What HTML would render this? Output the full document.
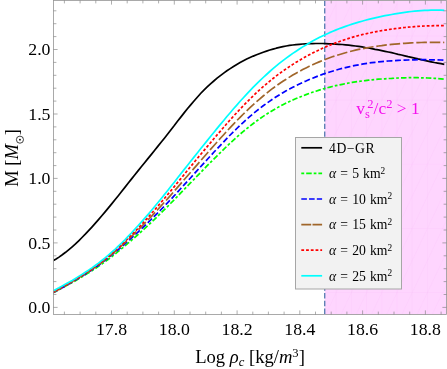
<!DOCTYPE html>
<html><head><meta charset="utf-8"><title>plot</title>
<style>
html,body{margin:0;padding:0;background:#fff;}
body{width:447px;height:369px;position:relative;overflow:hidden;font-family:"Liberation Serif",serif;color:#000;}
.t{position:absolute;white-space:nowrap;line-height:1;}
#txt{position:absolute;left:0;top:0;width:447px;height:369px;will-change:transform;opacity:0.999;}
.xt{font-size:17.8px;top:320.8px;transform:translateX(-50%) scaleY(0.94);}
.yt{font-size:17.8px;right:396.5px;transform:translateY(-50%) scaleY(0.94);}
.lg{font-size:13.7px;left:329px;transform:translateY(-50%);word-spacing:0.7px;margin-top:0.8px;}
sup{font-size:0.68em;vertical-align:baseline;position:relative;top:-0.48em;line-height:0;}
sub{font-size:0.68em;vertical-align:baseline;position:relative;top:0.25em;line-height:0;}
i{font-style:italic;}
</style></head><body>
<svg width="447" height="369" viewBox="0 0 447 369" style="position:absolute;left:0;top:0">
<defs><clipPath id="cp"><rect x="53.5" y="0.5" width="393.0" height="314.0"/></clipPath><clipPath id="cpp"><rect x="324.7" y="0.5" width="121.80000000000001" height="314.0"/></clipPath></defs>
<rect x="324.7" y="0.5" width="121.80000000000001" height="314.0" fill="#fed5fe"/>
<path clip-path="url(#cpp)" d="M427.4,0.5V314.5M412.2,0.5V314.5M397.0,0.5V314.5M381.8,0.5V314.5M366.6,0.5V314.5M351.4,0.5V314.5M336.2,0.5V314.5M324.7,36H446.5M324.7,100.2H446.5M324.7,164.3H446.5M324.7,228.5H446.5M324.7,292.6H446.5M442.6,68.1L457.8,36.0L473.0,3.9M442.6,132.3L457.8,100.2L473.0,68.1M442.6,196.4L457.8,164.3L473.0,132.2M442.6,260.6L457.8,228.5L473.0,196.4M442.6,324.7L457.8,292.6L473.0,260.5M427.4,68.1L442.6,36.0L457.8,3.9M427.4,132.3L442.6,100.2L457.8,68.1M427.4,196.4L442.6,164.3L457.8,132.2M427.4,260.6L442.6,228.5L457.8,196.4M427.4,324.7L442.6,292.6L457.8,260.5M412.2,68.1L427.4,36.0L442.6,3.9M412.2,132.3L427.4,100.2L442.6,68.1M412.2,196.4L427.4,164.3L442.6,132.2M412.2,260.6L427.4,228.5L442.6,196.4M412.2,324.7L427.4,292.6L442.6,260.5M397.0,68.1L412.2,36.0L427.4,3.9M397.0,132.3L412.2,100.2L427.4,68.1M397.0,196.4L412.2,164.3L427.4,132.2M397.0,260.6L412.2,228.5L427.4,196.4M397.0,324.7L412.2,292.6L427.4,260.5M381.8,68.1L397.0,36.0L412.2,3.9M381.8,132.3L397.0,100.2L412.2,68.1M381.8,196.4L397.0,164.3L412.2,132.2M381.8,260.6L397.0,228.5L412.2,196.4M381.8,324.7L397.0,292.6L412.2,260.5M366.6,68.1L381.8,36.0L397.0,3.9M366.6,132.3L381.8,100.2L397.0,68.1M366.6,196.4L381.8,164.3L397.0,132.2M366.6,260.6L381.8,228.5L397.0,196.4M366.6,324.7L381.8,292.6L397.0,260.5M351.4,68.1L366.6,36.0L381.8,3.9M351.4,132.3L366.6,100.2L381.8,68.1M351.4,196.4L366.6,164.3L381.8,132.2M351.4,260.6L366.6,228.5L381.8,196.4M351.4,324.7L366.6,292.6L381.8,260.5M336.2,68.1L351.4,36.0L366.6,3.9M336.2,132.3L351.4,100.2L366.6,68.1M336.2,196.4L351.4,164.3L366.6,132.2M336.2,260.6L351.4,228.5L366.6,196.4M336.2,324.7L351.4,292.6L366.6,260.5M321.0,68.1L336.2,36.0L351.4,3.9M321.0,132.3L336.2,100.2L351.4,68.1M321.0,196.4L336.2,164.3L351.4,132.2M321.0,260.6L336.2,228.5L351.4,196.4M321.0,324.7L336.2,292.6L351.4,260.5M305.8,68.1L321.0,36.0L336.2,3.9M305.8,132.3L321.0,100.2L336.2,68.1M305.8,196.4L321.0,164.3L336.2,132.2M305.8,260.6L321.0,228.5L336.2,196.4M305.8,324.7L321.0,292.6L336.2,260.5M290.6,68.1L305.8,36.0L321.0,3.9M290.6,132.3L305.8,100.2L321.0,68.1M290.6,196.4L305.8,164.3L321.0,132.2M290.6,260.6L305.8,228.5L321.0,196.4M290.6,324.7L305.8,292.6L321.0,260.5M275.4,68.1L290.6,36.0L305.8,3.9M275.4,132.3L290.6,100.2L305.8,68.1M275.4,196.4L290.6,164.3L305.8,132.2M275.4,260.6L290.6,228.5L305.8,196.4M275.4,324.7L290.6,292.6L305.8,260.5M260.2,68.1L275.4,36.0L290.6,3.9M260.2,132.3L275.4,100.2L290.6,68.1M260.2,196.4L275.4,164.3L290.6,132.2M260.2,260.6L275.4,228.5L290.6,196.4M260.2,324.7L275.4,292.6L290.6,260.5M245.0,68.1L260.2,36.0L275.4,3.9M245.0,132.3L260.2,100.2L275.4,68.1M245.0,196.4L260.2,164.3L275.4,132.2M245.0,260.6L260.2,228.5L275.4,196.4M245.0,324.7L260.2,292.6L275.4,260.5" stroke="#fbc6fb" stroke-width="0.7" fill="none" opacity="0.4"/>
<g clip-path="url(#cp)" fill="none" stroke-linejoin="round">
<line x1="324.7" y1="0.5" x2="324.7" y2="314.5" stroke="#5e81b5" stroke-width="1.4" stroke-dasharray="5.4,2.3"/>
<path d="M52.4,261.1 L55.7,259.2 L59.0,257.1 L62.3,254.8 L65.6,252.3 L68.9,249.6 L72.2,246.8 L75.5,243.9 L78.7,240.8 L82.0,237.5 L85.3,234.2 L88.6,230.7 L91.9,227.1 L95.2,223.4 L98.5,219.6 L101.8,215.8 L105.1,211.9 L108.4,207.9 L111.7,203.9 L115.0,199.8 L118.3,195.7 L121.6,191.5 L124.9,187.4 L128.1,183.3 L131.4,179.1 L134.7,175.0 L138.0,170.9 L141.3,166.8 L144.6,162.7 L147.9,158.6 L151.2,154.6 L154.5,150.5 L157.8,146.4 L161.1,142.3 L164.4,138.2 L167.7,134.0 L171.0,129.7 L174.3,125.5 L177.5,121.2 L180.8,117.1 L184.1,112.9 L187.4,108.8 L190.7,104.9 L194.0,101.0 L197.3,97.2 L200.6,93.5 L203.9,90.1 L207.2,86.9 L210.5,83.8 L213.8,81.0 L217.1,78.2 L220.4,75.6 L223.7,73.1 L226.9,70.8 L230.2,68.6 L233.5,66.5 L236.8,64.5 L240.1,62.6 L243.4,60.8 L246.7,59.1 L250.0,57.6 L253.3,56.1 L256.6,54.8 L259.9,53.5 L263.2,52.2 L266.5,51.1 L269.8,50.0 L273.0,49.1 L276.3,48.2 L279.6,47.4 L282.9,46.7 L286.2,46.0 L289.5,45.4 L292.8,45.0 L296.1,44.6 L299.4,44.3 L302.7,44.0 L306.0,43.8 L309.3,43.7 L312.6,43.6 L315.9,43.5 L319.2,43.5 L322.4,43.5 L325.7,43.6 L329.0,43.8 L332.3,43.9 L335.6,44.1 L338.9,44.3 L342.2,44.5 L345.5,44.8 L348.8,45.2 L352.1,45.6 L355.4,46.0 L358.7,46.4 L362.0,46.9 L365.3,47.5 L368.6,48.0 L371.8,48.6 L375.1,49.3 L378.4,49.9 L381.7,50.6 L385.0,51.3 L388.3,52.0 L391.6,52.7 L394.9,53.5 L398.2,54.3 L401.5,55.0 L404.8,55.8 L408.1,56.6 L411.4,57.3 L414.7,58.1 L418.0,58.9 L421.2,59.6 L424.5,60.4 L427.8,61.1 L431.1,61.8 L434.4,62.5 L437.7,63.1 L441.0,63.7 L444.3,64.3" stroke="#000000" stroke-width="1.7"/>
<path d="M52.4,293.2 L55.7,291.5 L59.0,289.7 L62.3,287.9 L65.6,286.1 L68.9,284.3 L72.2,282.5 L75.5,280.7 L78.7,278.8 L82.0,276.8 L85.3,274.9 L88.6,272.8 L91.9,270.7 L95.2,268.6 L98.5,266.4 L101.8,264.0 L105.1,261.7 L108.4,259.2 L111.7,256.7 L115.0,254.1 L118.3,251.4 L121.6,248.7 L124.9,246.0 L128.1,243.2 L131.4,240.4 L134.7,237.5 L138.0,234.6 L141.3,231.6 L144.6,228.6 L147.9,225.5 L151.2,222.4 L154.5,219.3 L157.8,216.1 L161.1,212.9 L164.4,209.6 L167.7,206.4 L171.0,203.0 L174.3,199.7 L177.5,196.3 L180.8,192.9 L184.1,189.5 L187.4,186.1 L190.7,182.7 L194.0,179.3 L197.3,175.9 L200.6,172.5 L203.9,169.1 L207.2,165.7 L210.5,162.4 L213.8,159.1 L217.1,155.8 L220.4,152.6 L223.7,149.4 L226.9,146.2 L230.2,143.1 L233.5,140.1 L236.8,137.1 L240.1,134.2 L243.4,131.4 L246.7,128.7 L250.0,126.1 L253.3,123.5 L256.6,121.0 L259.9,118.7 L263.2,116.4 L266.5,114.2 L269.8,112.2 L273.0,110.2 L276.3,108.3 L279.6,106.5 L282.9,104.7 L286.2,103.1 L289.5,101.5 L292.8,100.0 L296.1,98.5 L299.4,97.2 L302.7,95.9 L306.0,94.6 L309.3,93.4 L312.6,92.2 L315.9,91.2 L319.2,90.1 L322.4,89.1 L325.7,88.2 L329.0,87.3 L332.3,86.5 L335.6,85.7 L338.9,85.0 L342.2,84.3 L345.5,83.6 L348.8,83.0 L352.1,82.4 L355.4,81.9 L358.7,81.4 L362.0,81.0 L365.3,80.6 L368.6,80.2 L371.8,79.8 L375.1,79.5 L378.4,79.2 L381.7,79.0 L385.0,78.8 L388.3,78.5 L391.6,78.4 L394.9,78.2 L398.2,78.0 L401.5,77.9 L404.8,77.8 L408.1,77.7 L411.4,77.7 L414.7,77.7 L418.0,77.7 L421.2,77.8 L424.5,77.8 L427.8,78.0 L431.1,78.1 L434.4,78.3 L437.7,78.5 L441.0,78.8 L444.3,79.1" stroke="#00ff00" stroke-width="1.7" stroke-dasharray="5.5,2.1,2.7,2.1"/>
<path d="M52.4,293.1 L55.7,291.3 L59.0,289.5 L62.3,287.7 L65.6,285.8 L68.9,284.0 L72.2,282.1 L75.5,280.1 L78.7,278.2 L82.0,276.2 L85.3,274.1 L88.6,272.0 L91.9,269.8 L95.2,267.5 L98.5,265.2 L101.8,262.8 L105.1,260.3 L108.4,257.7 L111.7,255.1 L115.0,252.3 L118.3,249.6 L121.6,246.8 L124.9,243.9 L128.1,241.0 L131.4,238.1 L134.7,235.1 L138.0,232.1 L141.3,229.0 L144.6,225.9 L147.9,222.7 L151.2,219.5 L154.5,216.2 L157.8,212.9 L161.1,209.5 L164.4,206.1 L167.7,202.7 L171.0,199.2 L174.3,195.7 L177.5,192.1 L180.8,188.5 L184.1,184.9 L187.4,181.3 L190.7,177.7 L194.0,174.0 L197.3,170.4 L200.6,166.7 L203.9,163.1 L207.2,159.5 L210.5,155.9 L213.8,152.3 L217.1,148.8 L220.4,145.3 L223.7,141.8 L226.9,138.4 L230.2,135.0 L233.5,131.7 L236.8,128.5 L240.1,125.4 L243.4,122.3 L246.7,119.3 L250.0,116.4 L253.3,113.6 L256.6,110.9 L259.9,108.3 L263.2,105.8 L266.5,103.4 L269.8,101.1 L273.0,98.8 L276.3,96.7 L279.6,94.7 L282.9,92.7 L286.2,90.8 L289.5,89.0 L292.8,87.3 L296.1,85.6 L299.4,84.0 L302.7,82.4 L306.0,81.0 L309.3,79.5 L312.6,78.2 L315.9,76.9 L319.2,75.6 L322.4,74.4 L325.7,73.3 L329.0,72.2 L332.3,71.2 L335.6,70.2 L338.9,69.3 L342.2,68.4 L345.5,67.6 L348.8,66.8 L352.1,66.1 L355.4,65.4 L358.7,64.8 L362.0,64.2 L365.3,63.6 L368.6,63.1 L371.8,62.7 L375.1,62.3 L378.4,61.9 L381.7,61.6 L385.0,61.3 L388.3,61.0 L391.6,60.8 L394.9,60.6 L398.2,60.4 L401.5,60.2 L404.8,60.1 L408.1,60.0 L411.4,59.9 L414.7,59.8 L418.0,59.7 L421.2,59.7 L424.5,59.7 L427.8,59.7 L431.1,59.8 L434.4,59.8 L437.7,59.9 L441.0,60.0 L444.3,60.2" stroke="#0000ff" stroke-width="1.7" stroke-dasharray="5.9,2.6"/>
<path d="M52.4,292.8 L55.7,291.0 L59.0,289.2 L62.3,287.4 L65.6,285.5 L68.9,283.6 L72.2,281.7 L75.5,279.8 L78.7,277.8 L82.0,275.8 L85.3,273.7 L88.6,271.6 L91.9,269.4 L95.2,267.1 L98.5,264.7 L101.8,262.3 L105.1,259.7 L108.4,257.1 L111.7,254.3 L115.0,251.5 L118.3,248.7 L121.6,245.7 L124.9,242.7 L128.1,239.7 L131.4,236.5 L134.7,233.3 L138.0,230.1 L141.3,226.8 L144.6,223.4 L147.9,220.0 L151.2,216.6 L154.5,213.1 L157.8,209.5 L161.1,205.9 L164.4,202.3 L167.7,198.6 L171.0,194.9 L174.3,191.1 L177.5,187.4 L180.8,183.6 L184.1,179.8 L187.4,176.0 L190.7,172.2 L194.0,168.4 L197.3,164.6 L200.6,160.8 L203.9,157.0 L207.2,153.2 L210.5,149.4 L213.8,145.7 L217.1,142.0 L220.4,138.3 L223.7,134.7 L226.9,131.1 L230.2,127.6 L233.5,124.1 L236.8,120.6 L240.1,117.3 L243.4,114.0 L246.7,110.8 L250.0,107.6 L253.3,104.6 L256.6,101.6 L259.9,98.8 L263.2,96.0 L266.5,93.3 L269.8,90.7 L273.0,88.2 L276.3,85.8 L279.6,83.5 L282.9,81.3 L286.2,79.2 L289.5,77.1 L292.8,75.1 L296.1,73.2 L299.4,71.4 L302.7,69.6 L306.0,67.9 L309.3,66.3 L312.6,64.8 L315.9,63.3 L319.2,61.9 L322.4,60.5 L325.7,59.2 L329.0,58.0 L332.3,56.8 L335.6,55.7 L338.9,54.7 L342.2,53.7 L345.5,52.7 L348.8,51.8 L352.1,51.0 L355.4,50.2 L358.7,49.4 L362.0,48.8 L365.3,48.1 L368.6,47.5 L371.8,47.0 L375.1,46.5 L378.4,46.0 L381.7,45.6 L385.0,45.1 L388.3,44.8 L391.6,44.4 L394.9,44.1 L398.2,43.8 L401.5,43.5 L404.8,43.3 L408.1,43.1 L411.4,42.9 L414.7,42.7 L418.0,42.6 L421.2,42.5 L424.5,42.4 L427.8,42.3 L431.1,42.3 L434.4,42.3 L437.7,42.3 L441.0,42.4 L444.3,42.5" stroke="#a0662a" stroke-width="1.7" stroke-dasharray="10.6,2.8"/>
<path d="M52.4,292.6 L55.7,290.7 L59.0,288.9 L62.3,287.0 L65.6,285.2 L68.9,283.3 L72.2,281.4 L75.5,279.5 L78.7,277.5 L82.0,275.5 L85.3,273.4 L88.6,271.2 L91.9,269.0 L95.2,266.7 L98.5,264.3 L101.8,261.8 L105.1,259.2 L108.4,256.5 L111.7,253.7 L115.0,250.8 L118.3,247.8 L121.6,244.8 L124.9,241.6 L128.1,238.4 L131.4,235.1 L134.7,231.7 L138.0,228.3 L141.3,224.8 L144.6,221.2 L147.9,217.5 L151.2,213.8 L154.5,210.0 L157.8,206.2 L161.1,202.4 L164.4,198.5 L167.7,194.5 L171.0,190.6 L174.3,186.6 L177.5,182.6 L180.8,178.6 L184.1,174.6 L187.4,170.5 L190.7,166.5 L194.0,162.5 L197.3,158.5 L200.6,154.5 L203.9,150.6 L207.2,146.6 L210.5,142.7 L213.8,138.8 L217.1,134.9 L220.4,131.1 L223.7,127.3 L226.9,123.5 L230.2,119.8 L233.5,116.2 L236.8,112.6 L240.1,109.1 L243.4,105.6 L246.7,102.3 L250.0,99.0 L253.3,95.8 L256.6,92.6 L259.9,89.6 L263.2,86.7 L266.5,83.9 L269.8,81.1 L273.0,78.5 L276.3,75.9 L279.6,73.5 L282.9,71.1 L286.2,68.8 L289.5,66.6 L292.8,64.4 L296.1,62.3 L299.4,60.4 L302.7,58.4 L306.0,56.6 L309.3,54.8 L312.6,53.1 L315.9,51.4 L319.2,49.9 L322.4,48.3 L325.7,46.9 L329.0,45.5 L332.3,44.2 L335.6,42.9 L338.9,41.7 L342.2,40.5 L345.5,39.4 L348.8,38.4 L352.1,37.4 L355.4,36.4 L358.7,35.5 L362.0,34.7 L365.3,33.9 L368.6,33.2 L371.8,32.5 L375.1,31.8 L378.4,31.2 L381.7,30.6 L385.0,30.1 L388.3,29.6 L391.6,29.1 L394.9,28.7 L398.2,28.3 L401.5,27.9 L404.8,27.5 L408.1,27.2 L411.4,26.9 L414.7,26.6 L418.0,26.4 L421.2,26.2 L424.5,26.0 L427.8,25.9 L431.1,25.8 L434.4,25.7 L437.7,25.7 L441.0,25.6 L444.3,25.7" stroke="#ff0000" stroke-width="1.7" stroke-dasharray="2.8,1.95"/>
<path d="M52.4,291.4 L55.7,289.6 L59.0,287.8 L62.3,285.9 L65.6,284.1 L68.9,282.2 L72.2,280.4 L75.5,278.4 L78.7,276.4 L82.0,274.4 L85.3,272.3 L88.6,270.1 L91.9,267.9 L95.2,265.5 L98.5,263.1 L101.8,260.5 L105.1,257.9 L108.4,255.1 L111.7,252.2 L115.0,249.3 L118.3,246.2 L121.6,243.0 L124.9,239.8 L128.1,236.4 L131.4,233.0 L134.7,229.4 L138.0,225.8 L141.3,222.1 L144.6,218.4 L147.9,214.6 L151.2,210.7 L154.5,206.7 L157.8,202.7 L161.1,198.7 L164.4,194.6 L167.7,190.5 L171.0,186.3 L174.3,182.2 L177.5,178.0 L180.8,173.8 L184.1,169.6 L187.4,165.5 L190.7,161.3 L194.0,157.1 L197.3,153.0 L200.6,148.8 L203.9,144.7 L207.2,140.6 L210.5,136.5 L213.8,132.5 L217.1,128.4 L220.4,124.4 L223.7,120.5 L226.9,116.5 L230.2,112.7 L233.5,108.8 L236.8,105.1 L240.1,101.3 L243.4,97.7 L246.7,94.1 L250.0,90.6 L253.3,87.2 L256.6,83.9 L259.9,80.6 L263.2,77.5 L266.5,74.5 L269.8,71.5 L273.0,68.7 L276.3,65.9 L279.6,63.2 L282.9,60.6 L286.2,58.1 L289.5,55.7 L292.8,53.4 L296.1,51.2 L299.4,49.0 L302.7,46.9 L306.0,44.9 L309.3,43.0 L312.6,41.1 L315.9,39.3 L319.2,37.6 L322.4,36.0 L325.7,34.4 L329.0,32.9 L332.3,31.5 L335.6,30.1 L338.9,28.8 L342.2,27.6 L345.5,26.4 L348.8,25.2 L352.1,24.1 L355.4,23.1 L358.7,22.1 L362.0,21.2 L365.3,20.3 L368.6,19.4 L371.8,18.6 L375.1,17.8 L378.4,17.1 L381.7,16.4 L385.0,15.7 L388.3,15.1 L391.6,14.5 L394.9,13.9 L398.2,13.3 L401.5,12.8 L404.8,12.3 L408.1,11.9 L411.4,11.5 L414.7,11.2 L418.0,10.9 L421.2,10.6 L424.5,10.4 L427.8,10.3 L431.1,10.1 L434.4,10.1 L437.7,10.1 L441.0,10.2 L444.3,10.3" stroke="#00ffff" stroke-width="1.7"/>
</g>
<rect x="53.5" y="0.5" width="393.0" height="314.0" fill="none" stroke="#959595" stroke-width="0.8"/>
<path d="M64.4,314.5v-2.9M64.4,0.5v2.9M80.1,314.5v-2.9M80.1,0.5v2.9M95.8,314.5v-2.9M95.8,0.5v2.9M111.5,314.5v-4.1M111.5,0.5v4.1M127.2,314.5v-2.9M127.2,0.5v2.9M142.9,314.5v-2.9M142.9,0.5v2.9M158.6,314.5v-2.9M158.6,0.5v2.9M174.3,314.5v-4.1M174.3,0.5v4.1M190.0,314.5v-2.9M190.0,0.5v2.9M205.7,314.5v-2.9M205.7,0.5v2.9M221.4,314.5v-2.9M221.4,0.5v2.9M237.1,314.5v-4.1M237.1,0.5v4.1M252.8,314.5v-2.9M252.8,0.5v2.9M268.4,314.5v-2.9M268.4,0.5v2.9M284.1,314.5v-2.9M284.1,0.5v2.9M299.8,314.5v-4.1M299.8,0.5v4.1M315.5,314.5v-2.9M315.5,0.5v2.9M331.2,314.5v-2.9M331.2,0.5v2.9M346.9,314.5v-2.9M346.9,0.5v2.9M362.6,314.5v-4.1M362.6,0.5v4.1M378.3,314.5v-2.9M378.3,0.5v2.9M394.0,314.5v-2.9M394.0,0.5v2.9M409.7,314.5v-2.9M409.7,0.5v2.9M425.4,314.5v-4.1M425.4,0.5v4.1M441.1,314.5v-2.9M441.1,0.5v2.9M53.5,307.4h4.1M446.5,307.4h-4.1M53.5,294.5h2.9M446.5,294.5h-2.9M53.5,281.6h2.9M446.5,281.6h-2.9M53.5,268.7h2.9M446.5,268.7h-2.9M53.5,255.8h2.9M446.5,255.8h-2.9M53.5,242.9h4.1M446.5,242.9h-4.1M53.5,230.0h2.9M446.5,230.0h-2.9M53.5,217.1h2.9M446.5,217.1h-2.9M53.5,204.2h2.9M446.5,204.2h-2.9M53.5,191.3h2.9M446.5,191.3h-2.9M53.5,178.4h4.1M446.5,178.4h-4.1M53.5,165.6h2.9M446.5,165.6h-2.9M53.5,152.7h2.9M446.5,152.7h-2.9M53.5,139.8h2.9M446.5,139.8h-2.9M53.5,126.9h2.9M446.5,126.9h-2.9M53.5,114.0h4.1M446.5,114.0h-4.1M53.5,101.1h2.9M446.5,101.1h-2.9M53.5,88.2h2.9M446.5,88.2h-2.9M53.5,75.3h2.9M446.5,75.3h-2.9M53.5,62.4h2.9M446.5,62.4h-2.9M53.5,49.5h4.1M446.5,49.5h-4.1M53.5,36.6h2.9M446.5,36.6h-2.9M53.5,23.7h2.9M446.5,23.7h-2.9M53.5,10.8h2.9M446.5,10.8h-2.9" stroke="#777" stroke-width="0.6" fill="none"/>
<rect x="295.5" y="137.5" width="106" height="151.5" fill="#f2f2f2" stroke="#a6a6a6" stroke-width="1"/>
<line x1="301.3" y1="147.8" x2="322.1" y2="147.8" stroke="#000000" stroke-width="1.7"/>
<line x1="301.3" y1="173.4" x2="322.1" y2="173.4" stroke="#00ff00" stroke-width="1.7" stroke-dasharray="2.9,2,5.5,2,2.7,2,5.5,2"/>
<line x1="301.3" y1="199.0" x2="322.1" y2="199.0" stroke="#0000ff" stroke-width="1.7" stroke-dasharray="5.6,2.15"/>
<line x1="301.3" y1="224.6" x2="322.1" y2="224.6" stroke="#a0662a" stroke-width="1.7" stroke-dasharray="9.9,1.3"/>
<line x1="301.3" y1="250.2" x2="322.1" y2="250.2" stroke="#ff0000" stroke-width="1.7" stroke-dasharray="2.8,1.95"/>
<line x1="301.3" y1="275.8" x2="322.1" y2="275.8" stroke="#00ffff" stroke-width="1.7"/>
</svg>
<div id="txt">
<div class="t xt" style="left:111.5px">17.8</div>
<div class="t xt" style="left:174.3px">18.0</div>
<div class="t xt" style="left:237.1px">18.2</div>
<div class="t xt" style="left:299.8px">18.4</div>
<div class="t xt" style="left:362.6px">18.6</div>
<div class="t xt" style="left:425.4px">18.8</div>
<div class="t yt" style="top:308.0px">0.0</div>
<div class="t yt" style="top:243.5px">0.5</div>
<div class="t yt" style="top:179.0px">1.0</div>
<div class="t yt" style="top:114.6px">1.5</div>
<div class="t yt" style="top:50.1px">2.0</div>
<div class="t" id="xl" style="font-size:18.6px;left:250px;top:348.1px;transform:translateX(-50%)">Log <i>ρ<sub>c</sub></i> [kg/<i>m</i><sup>3</sup>]</div>
<div class="t" id="yl" style="font-size:18.5px;left:12px;top:157.8px;transform:translate(-50%,-50%) rotate(-90deg)">M [<i>M</i><svg width="8.4" height="8.4" viewBox="0 0 8.4 8.4" style="display:inline-block;position:relative;top:6.2px;margin-left:0.3px;margin-right:0.2px;overflow:visible"><circle cx="4.2" cy="4.2" r="3.55" fill="none" stroke="#000" stroke-width="0.75"/><circle cx="4.2" cy="4.2" r="0.95" fill="#000"/></svg>]</div>
<div class="t" id="vs" style="font-size:17.4px;color:#f510ee;left:388px;top:109.1px;transform:translate(-50%,-50%);letter-spacing:0px">v<sub style="font-size:0.72em;top:0.3em">s</sub><sup style="font-size:0.72em;top:-0.5em;margin-left:-2.6px">2</sup>/c<sup style="font-size:0.72em;top:-0.5em">2</sup> &gt; 1</div>
<div class="t lg" style="top:147.8px"><span style="letter-spacing:0.55px">4D−GR</span></div>
<div class="t lg" style="top:173.4px"><i>α</i> = 5 km<sup>2</sup></div>
<div class="t lg" style="top:199.0px"><i>α</i> = 10 km<sup>2</sup></div>
<div class="t lg" style="top:224.6px"><i>α</i> = 15 km<sup>2</sup></div>
<div class="t lg" style="top:250.2px"><i>α</i> = 20 km<sup>2</sup></div>
<div class="t lg" style="top:275.8px"><i>α</i> = 25 km<sup>2</sup></div>
</div>
</body></html>
